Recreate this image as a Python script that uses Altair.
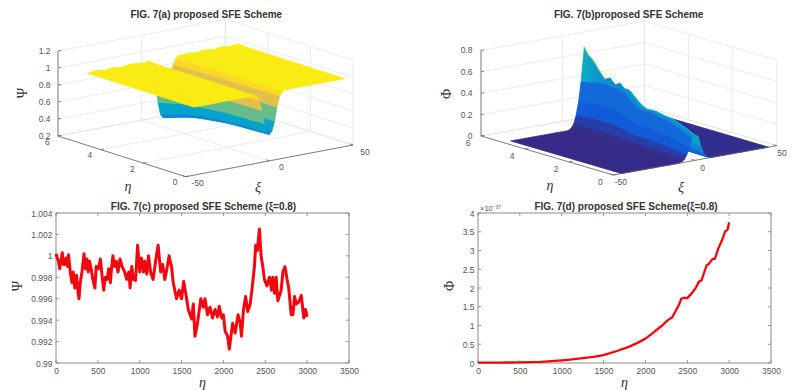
import altair as alt
import pandas as pd

# ---- FIG 7(a): surface values
XI_A = [-45,-40,-35,-30,-25,-20,-15,-10,-9,-7.5,-6,-4.5,-3,-1.5,0,1.5,3,4.5,6,7.5,9,10,15,20,25,30,35,40,45]
SHAPE_A = [0,0,0,0,0,0,0,0,0,.04,.14,.39,.72,.93,1,.93,.72,.39,.14,.04,0,0,0,0,0,0,0,0,0]
EDGE_A = [0,.012,-.004,.01,-.006,.012,.002,-.004,.008,0,0,0,0,0,0,0,0,0,0,0,.006,-.004,.012,0,.014,-.004,.012,-.002,.01]
ETA_A = [0,.5,1,1.5,2,2.5,3,3.5,4,4.5,5]
DEPTH_A = [.49,.495,.5,.505,.514,.53,.548,.57,.604,.65,.69]

# ---- FIG 7(b)
XI_B = [-45,-10,-8,-6.5,-5,-3.5,-2,0,2,3.5,5,6.5,8,10,45]
SHAPE_B = [0,0,.04,.12,.3,.58,1,None,1,.58,.3,.12,.04,0,0]
ETA_B = [0,.15,.53,1.06,1.59,1.89,2.34,2.57,2.87,3.07,3.25,3.4,3.63,3.85,4.08,4.31,4.54,4.69,4.84,5.02]
RIDGE_B = [.225,.228,.267,.313,.327,.34,.337,.361,.42,.477,.466,.513,.484,.533,.509,.566,.632,.669,.69,.751]
SHOULDER_B = [.218,.222,.26,.305,.32,.335,.33,.355,.41,.45,.45,.47,.465,.475,.47,.47,.45,.445,.44,.435]
BAND_B = [0,0,.01,.05,.12,.17,.27,.38,.38,.27,.17,.12,.05,.01]

# ---- FIG 7(c)
ETA_C = [0,15,30,45,60,75,90,105,120,140,150,170,190,205,225,245,265,275,290,310,335,350,370,385,400,420,440,465,480,505,530,555,570,590,610,630,650,665,680,700,720,740,765,790,820,845,870,885,905,925,950,975,1000,1020,1045,1060,1085,1105,1130,1160,1190,1220,1250,1275,1300,1330,1350,1380,1400,1440,1470,1500,1525,1550,1580,1620,1640,1660,1690,1730,1760,1780,1810,1840,1870,1900,1930,1950,1980,2000,2020,2050,2070,2090,2110,2140,2175,2200,2215,2240,2265,2290,2320,2350,2370,2385,2405,2430,2450,2470,2490,2520,2550,2575,2590,2610,2630,2650,2690,2710,2735,2760,2780,2810,2830,2850,2870,2900,2930,2960,2980,3000]
PSI_C = [1.0002,.9998,.9995,.9988,.9996,1.0003,.9992,.9992,.9998,.9990,1.0001,.9985,.9975,.9985,.9970,.9982,.9965,.9960,.9975,.9985,1.0002,.9988,.9997,.9985,.9995,.9988,.9978,.9970,.9990,.9988,.9997,.9978,.9968,.9980,.9978,.9988,.9975,.9990,1.0000,.9990,.9995,.9985,.9997,.9990,.9985,.9978,.9985,.9970,.9990,.9978,.9977,1.0010,.9985,.9998,.9985,.9995,.9983,1.0000,.9985,.9978,.9995,1.0010,.9985,.9992,.9978,.9990,1.0000,.9990,.9975,.9960,.9968,.9960,.9976,.9965,.9950,.9941,.9955,.9925,.9937,.9960,.9952,.9960,.9945,.9952,.9942,.9950,.9943,.9953,.9942,.9945,.9930,.9925,.9913,.9925,.9937,.9928,.9945,.9938,.9925,.9950,.9962,.9948,.9955,.9975,.9990,1.0010,1.0005,1.0025,1.0000,.9990,.9978,.9972,.9980,.9968,.9980,.9965,.9980,.9958,.9968,.9985,.9990,.9978,.9970,.9945,.9945,.9962,.9955,.9957,.9963,.9942,.9950,.9943]

# ---- FIG 7(d), in units of 1e-37
ETA_D = [0,250,500,750,1000,1100,1250,1400,1500,1660,1800,1900,2000,2060,2200,2260,2320,2400,2430,2460,2500,2550,2600,2640,2670,2730,2760,2800,2830,2870,2920,2950,2980,3000]
PHI_D = [.01,.012,.015,.03,.07,.09,.13,.17,.21,.32,.43,.53,.65,.75,1.0,1.13,1.22,1.55,1.72,1.74,1.73,1.85,2.0,2.17,2.2,2.6,2.65,2.77,2.78,3.05,3.3,3.5,3.55,3.75]

X_TICKS = [0,500,1000,1500,2000,2500,3000,3500]
Y_TICKS_C = [.99,.992,.994,.996,.998,1,1.002,1.004]
Y_TICKS_D = [0,.5,1,1.5,2,2.5,3,3.5,4]
Z_TICKS_A = [.2,.4,.6,.8,1,1.2]
Z_TICKS_B = [0,.2,.4,.6,.8]
XI_TICKS = [-50,0,50]
ETA_TICKS = [0,2,4,6]

PARULA = [(0x35,0x2a,0x87),(0x0f,0x5c,0xdd),(0x14,0x81,0xd6),(0x06,0xa4,0xca),(0x2e,0xb7,0xa4),
          (0x87,0xbf,0x77),(0xd1,0xbb,0x59),(0xfe,0xc8,0x32),(0xf8,0xec,0x12)]

GRID = "#e3e3e3"
AXIS = "#666666"
LABEL = "#555555"
TITLE = "#333333"
SANS = "Liberation Sans"
SERIF = "Liberation Serif"
FS_T, FS_L = 10, 8.5
PANEL_W_A, PANEL_W_B, PANEL_H = 392, 387, 194


def parula(t):
    t = max(0.0, min(1.0, t)) * (len(PARULA) - 1)
    i = min(int(t), len(PARULA) - 2)
    f = t - i
    c = [round(PARULA[i][k] * (1 - f) + PARULA[i + 1][k] * f) for k in range(3)]
    return "#%02x%02x%02x" % tuple(c)


def make_view(x0, y0, dx_xi, dy_xi, dx_eta, dy_eta, dz, z0):
    def view(xi, eta, z):
        return (x0 + (xi + 50) * dx_xi + eta * dx_eta,
                y0 + (xi + 50) * dy_xi + eta * dy_eta - (z - z0) * dz)
    return view


def feature(kind, pts, color, ox):
    coords = [[round(p[0] - ox, 2), round(-(p[1] - 8), 2)] for p in pts]
    if kind == "Polygon":
        geom = {"type": "Polygon", "coordinates": [coords + [coords[0]]]}
    else:
        geom = {"type": "LineString", "coordinates": coords}
    return {"type": "Feature", "geometry": geom, "properties": {"c": color}}


def quads(view, xs, es, zf, tf, ox):
    out = []
    for i in range(len(xs) - 2, -1, -1):
        if all(zf(i, j) == zf(i + 1, j) == zf(i, 0) for j in range(len(es))):
            # flat strip: one polygon
            last = len(es) - 1
            corners = [(i, 0), (i + 1, 0), (i + 1, last), (i, last)]
            pts = [view(xs[a], es[b], zf(a, b)) for a, b in corners]
            out.append(feature("Polygon", pts, parula(tf(i, 0)), ox))
            continue
        for j in range(len(es) - 2, -1, -1):
            corners = [(i, j), (i + 1, j), (i + 1, j + 1), (i, j + 1)]
            pts = [view(xs[a], es[b], zf(a, b)) for a, b in corners]
            out.append(feature("Polygon", pts, parula(tf(i, j)), ox))
    return out


def panel(view, ox, w, zticks, zmax, zmin, surface, extra, zlabel_x, off_eta, off_xi, texts):
    lines = []
    def L(a, b, color):
        lines.append(feature("Line", [view(*a), view(*b)], color, ox))
    for z in zticks:
        L((-50, 6, z), (50, 6, z), GRID)
        L((50, 6, z), (50, 0, z), GRID)
    for xi in XI_TICKS:
        L((xi, 0, zmin), (xi, 6, zmin), GRID)
        L((xi, 6, zmin), (xi, 6, zmax), GRID)
    for eta in ETA_TICKS:
        L((-50, eta, zmin), (50, eta, zmin), GRID)
        L((50, eta, zmin), (50, eta, zmax), GRID)
    axes = []
    def A(a, b):
        axes.append(feature("Line", [view(*a), view(*b)], AXIS, ox))
    A((-50, 6, zmin), (-50, 6, zmax))
    A((-50, 0, zmin), (-50, 6, zmin))
    A((-50, 0, zmin), (50, 0, zmin))
    ticks_txt = []
    for z in zticks:
        A((-50, 6, z), (-48.2, 6, z))
        px, py = view(-50, 6, z)
        ticks_txt.append({"lon": zlabel_x - ox, "lat": -(py - 8), "t": f"{z:g}", "a": "right"})
    for eta in ETA_TICKS:
        A((-50, eta, zmin), (-48, eta, zmin))
        px, py = view(-50, eta, zmin)
        ticks_txt.append({"lon": px + off_eta[0] - ox, "lat": -(py + off_eta[1] - 8), "t": f"{eta}", "a": "center"})
    for xi in XI_TICKS:
        A((xi, 0, zmin), (xi, .15, zmin))
        px, py = view(xi, 0, zmin)
        ticks_txt.append({"lon": min(px + off_xi[0], 782) - ox, "lat": -(py + off_xi[1] - 8), "t": f"{xi}", "a": "center"})

    proj = dict(type="identity", reflectY=True, scale=1, translate=[0, 0])
    geo_line = lambda feats, sw: alt.Chart(alt.Data(values=feats)).mark_geoshape(
        filled=False, strokeWidth=sw).encode(stroke=alt.Stroke("properties.c:N", scale=None))
    surf = alt.Chart(alt.Data(values=surface)).mark_geoshape(strokeWidth=.8).encode(
        fill=alt.Fill("properties.c:N", scale=None), stroke=alt.Stroke("properties.c:N", scale=None))
    tick_df = pd.DataFrame(ticks_txt)
    r = alt.Chart(tick_df[tick_df.a == "right"]).mark_text(font=SANS, fontSize=FS_L, color=LABEL, align="right", baseline="middle").encode(
        longitude="lon:Q", latitude="lat:Q", text="t:N")
    c = alt.Chart(tick_df[tick_df.a == "center"]).mark_text(font=SANS, fontSize=FS_L, color=LABEL, align="center", baseline="middle").encode(
        longitude="lon:Q", latitude="lat:Q", text="t:N")
    layers = [geo_line(lines, .7), surf]
    if extra:
        layers.append(geo_line(extra, .8))
    layers += [geo_line(axes, .8), r, c]
    for tx, ty, s, font, size, style, weight, angle, col in texts:
        df = pd.DataFrame({"lon": [tx - ox], "lat": [-(ty - 8)], "t": [s]})
        layers.append(alt.Chart(df).mark_text(font=font, fontSize=size, fontStyle=style, fontWeight=weight, angle=angle,
                                              color=col, align="center", baseline="middle").encode(
            longitude="lon:Q", latitude="lat:Q", text="t:N"))
    return alt.layer(*layers).properties(width=w, height=PANEL_H).project(**proj)


# ---- panel (a)
view_a = make_view(185.7, 176.7, 1.673, -.317, -21.28, -6.78, 85, .2)
def z_a(i, j):
    v = 1 - DEPTH_A[j] * SHAPE_A[i]
    if j == len(ETA_A) - 1:
        v += EDGE_A[i]
    return v
def t_a(i, j):
    return 1 - .76 * (SHAPE_A[i] + SHAPE_A[i + 1]) / 2
surf_a = quads(view_a, XI_A, ETA_A, z_a, t_a, 8)
chart_a = panel(view_a, 8, PANEL_W_A, Z_TICKS_A, 1.2, .2, surf_a, None, 50.5, (-10.7, 5.5), (12, 6.5), [
    (206.3, 15.3, "FIG. 7(a) proposed SFE Scheme", SANS, FS_T, "normal", "bold", 0, TITLE),
    (23, 93, "Ψ", SERIF, 14, "normal", "normal", 270, TITLE),
    (128, 187, "η", SERIF, 14, "italic", "normal", 0, TITLE),
    (258, 188, "ξ", SERIF, 14, "italic", "normal", 0, TITLE),
])

# ---- panel (b)
view_b = make_view(613.3, 175, 1.634, -.293, -22.05, -6.5, 107, 0)
def z_b(i, j):
    if SHAPE_B[i] is None:
        return RIDGE_B[j]
    return SHOULDER_B[j] * SHAPE_B[i]
def t_b(i, j):
    t = BAND_B[i]
    if XI_B[i] == -2:
        t += .5 * max(0, (RIDGE_B[j] + RIDGE_B[j + 1] - SHOULDER_B[j] - SHOULDER_B[j + 1]) / 2)
    return t
surf_b = quads(view_b, XI_B, ETA_B, z_b, t_b, 400)
ridge_line = [feature("Line", [view_b(0, e, r) for e, r in zip(ETA_B[-6:], RIDGE_B[-6:])], "#c8dc30", 400)]
chart_b = panel(view_b, 400, PANEL_W_B, Z_TICKS_B, .8, 0, surf_b, ridge_line, 472.5, (-13, 6.5), (7.5, 7.2), [
    (628.7, 15.3, "FIG. 7(b)proposed SFE Scheme", SANS, FS_T, "normal", "bold", 0, TITLE),
    (447.3, 94, "Φ", SERIF, 14, "normal", "normal", 270, TITLE),
    (550, 186, "η", SERIF, 14, "italic", "normal", 0, TITLE),
    (681, 188, "ξ", SERIF, 14, "italic", "normal", 0, TITLE),
])

# ---- panels (c), (d)
PLOT_W, PLOT_H = 293, 150


def line_panel(xs, ys, yticks, ydomain, yfmt, sw, title, ylab, ylab_x, title_dx, extra_text=None):
    df = pd.DataFrame({"x": xs, "y": ys})
    xs_scale = alt.Scale(domain=[0, 3500], nice=False)
    ys_scale = alt.Scale(domain=ydomain, nice=False)
    x_axis = alt.Axis(values=X_TICKS, title=None, grid=False, domain=False, ticks=False,
                      labelFont=SANS, labelFontSize=FS_L, labelColor=LABEL, labelPadding=3, labelFlush=False, format="d")
    y_axis = alt.Axis(values=yticks, title=None, grid=False, domain=False, ticks=False,
                      labelFont=SANS, labelFontSize=FS_L, labelColor=LABEL, labelPadding=4, format=yfmt)
    X = lambda f: alt.X(f, scale=xs_scale, axis=x_axis)
    Y = lambda f: alt.Y(f, scale=ys_scale, axis=y_axis)
    base = alt.Chart(df).mark_line(color="#f5060f", strokeWidth=sw, strokeJoin="round").encode(x=X("x:Q"), y=Y("y:Q"))
    xt = pd.DataFrame({"t": X_TICKS})
    yt = pd.DataFrame({"t": yticks})
    layers = [
        alt.Chart(xt).mark_rule(color=AXIS, strokeWidth=.7).encode(x=X("t:Q"), y=alt.value(PLOT_H), y2=alt.value(PLOT_H - 3)),
        alt.Chart(xt).mark_rule(color=AXIS, strokeWidth=.7).encode(x=X("t:Q"), y=alt.value(0), y2=alt.value(3)),
        alt.Chart(yt).mark_rule(color=AXIS, strokeWidth=.7).encode(y=Y("t:Q"), x=alt.value(0), x2=alt.value(3)),
        alt.Chart(yt).mark_rule(color=AXIS, strokeWidth=.7).encode(y=Y("t:Q"), x=alt.value(PLOT_W), x2=alt.value(PLOT_W - 3)),
        alt.Chart(xt.head(1)).mark_rect(fillOpacity=0, stroke="#8a8a8a", strokeWidth=1).encode(
            x=alt.value(0), x2=alt.value(PLOT_W), y=alt.value(0), y2=alt.value(PLOT_H)),
        base,
    ]
    txt = [(title_dx + PLOT_W / 2, -5.7, title, SANS, FS_T, "normal", "bold", 0, TITLE, "center"),
           (PLOT_W / 2, 169.7, "η", SERIF, 14, "italic", "normal", 0, TITLE, "center"),
           (ylab_x, 73, ylab, SERIF, 14, "normal", "normal", 270, TITLE, "center")]
    if extra_text:
        txt.append(extra_text)
    for tx, ty, s, font, size, style, weight, angle, col, al in txt:
        layers.append(alt.Chart(pd.DataFrame({"t": [s]})).mark_text(
            font=font, fontSize=size, fontStyle=style, fontWeight=weight, angle=angle, color=col, align=al, baseline="middle"
        ).encode(x=alt.value(tx), y=alt.value(ty), text="t:N"))
    return alt.layer(*layers).properties(width=PLOT_W, height=PLOT_H)


chart_c = line_panel(ETA_C, PSI_C, Y_TICKS_C, [.99, 1.004], ".3~f", 3,
                     "FIG. 7(c) proposed  SFE Scheme (ξ=0.8)", "Ψ", -37.7, 1)
chart_d = line_panel(ETA_D, PHI_D, Y_TICKS_D, [0, 4], "~g", 2.3,
                     "FIG. 7(d) proposed SFE Scheme(ξ=0.8)", "Φ", -28, 1.5,
                     (2, -4.5, "×10⁻³⁷", SANS, 7.5, "normal", "normal", 0, LABEL, "left"))


def spacer(w):
    return alt.Chart(pd.DataFrame({"a": [0]})).mark_point(opacity=0).properties(width=w, height=10)


row1 = alt.hconcat(chart_a, chart_b, spacing=0, bounds="flush")
row2 = alt.hconcat(spacer(48), chart_c, spacer(129), chart_d, spacing=0, bounds="flush")
chart = alt.vconcat(row1, row2, spacing=0).properties(padding=0).configure_view(stroke=None)
chart.save("out.html", embed_options={"renderer": "svg", "actions": False})
